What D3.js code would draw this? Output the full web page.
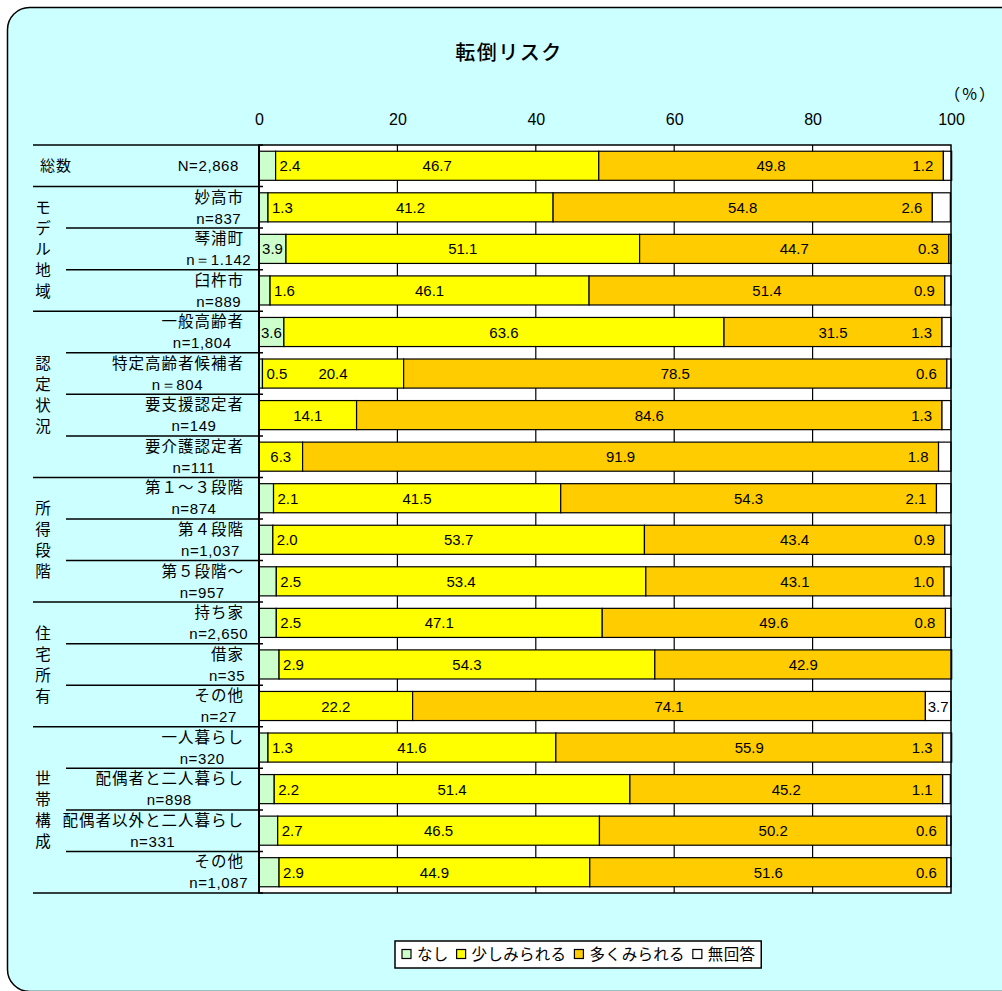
<!DOCTYPE html>
<html>
<head>
<meta charset="utf-8">
<script src="https://cdn.jsdelivr.net/npm/d3@7"></script>
<style>
  html, body { margin: 0; padding: 0; background: #ffffff; }
  svg { display: block; }
</style>
</head>
<body>
<div id="chart"></div>
<script>
// ---------- data ----------
const title = "転倒リスク";
const unitLabel = "（%）";
const categories = ["総数","妙高市","琴浦町","臼杵市","一般高齢者","特定高齢者候補者","要支援認定者","要介護認定者","第１～３段階","第４段階","第５段階～","持ち家","借家","その他","一人暮らし","配偶者と二人暮らし","配偶者以外と二人暮らし","その他"];
const sampleSizes = ["N=2,868","n=837","n＝1.142","n=889","n=1,804","n＝804","n=149","n=111","n=874","n=1,037","n=957","n=2,650","n=35","n=27","n=320","n=898","n=331","n=1,087"];
const groupNames = ["モデル地域","認定状況","所得段階","住宅所有","世帯構成"];
const groupStart = [1,4,8,11,14];
const groupEnd = [3,7,10,13,17];
const seriesNames = ["なし","少しみられる","多くみられる","無回答"];
const seriesColors = ["#CCFFCC","#FFFF00","#FFCC00","#FFFFFF"];
const nashi    = [2.4,1.3,3.9,1.6,3.6,0.5,0,0,2.1,2.0,2.5,2.5,2.9,0,1.3,2.2,2.7,2.9];
const sukoshi  = [46.7,41.2,51.1,46.1,63.6,20.4,14.1,6.3,41.5,53.7,53.4,47.1,54.3,22.2,41.6,51.4,46.5,44.9];
const ooku     = [49.8,54.8,44.7,51.4,31.5,78.5,84.6,91.9,54.3,43.4,43.1,49.6,42.9,74.1,55.9,45.2,50.2,51.6];
const mukaitou = [1.2,2.6,0.3,0.9,1.3,0.6,1.3,1.8,2.1,0.9,1.0,0.8,0,3.7,1.3,1.1,0.6,0.6];
const tickValues = [0,20,40,60,80,100];

// ---------- setup ----------
const W = 1002, H = 991;
const JP = "'Noto Sans CJK JP','Noto Sans',sans-serif";
const NUM = "'Liberation Sans',Arial,sans-serif";

const svg = d3.select("#chart").append("svg").attr("width", W).attr("height", H);

// background panel
svg.append("rect").attr("x", 7.5).attr("y", 7.5).attr("width", 1030).attr("height", 984)
  .attr("rx", 22).attr("fill", "#CCFFFF").attr("stroke", "#000").attr("stroke-width", 1.5);

// title
svg.append("text").attr("x", 509).attr("y", 60).attr("text-anchor", "middle")
  .style("font-family", JP).style("font-size", "20px").style("letter-spacing", "1.5px")
  .style("font-weight", 500).text(title);

const unitT = svg.append("text").attr("x", 973).attr("y", 100).attr("text-anchor", "middle")
  .style("font-family", JP).style("font-size", "16px").style("letter-spacing", "2px").text(unitLabel);
{
  const bb = unitT.node().getBBox();
  if (bb.x + bb.width > 997) unitT.attr("x", 973 - (bb.x + bb.width - 997));
}

const plotL = 259, plotR = 951, plotT = 145, plotB = 893;
const x = d3.scaleLinear().domain([0, 100]).range([plotL, plotR]);
const y = d3.scaleBand().domain(d3.range(categories.length)).range([plotT, plotB])
  .paddingInner(0.3).paddingOuter(0.15);
const step = y.step();
const rowTop = i => y(i) - y.paddingOuter() * step;

// plot background
svg.append("rect").attr("x", plotL).attr("y", plotT).attr("width", plotR - plotL).attr("height", plotB - plotT)
  .attr("fill", "#fff");

// gridlines
svg.append("g").selectAll("line").data(tickValues.filter(v => v > 0 && v < 100)).join("line")
  .attr("x1", d => x(d)).attr("x2", d => x(d)).attr("y1", plotT).attr("y2", plotB)
  .attr("stroke", "#000").attr("stroke-width", 1.2);

// axis
const axis = svg.append("g").attr("transform", `translate(0,${plotT})`)
  .call(d3.axisTop(x).tickValues(tickValues).tickSize(0).tickPadding(20).tickFormat(d3.format("d")));
axis.select(".domain").remove();
axis.selectAll("text").style("font-family", NUM).style("font-size", "16px").attr("fill", "#000");

// stacked data
const table = categories.map((c, i) => ({ idx: i, s0: nashi[i], s1: sukoshi[i], s2: ooku[i], s3: mukaitou[i] }));
const keys = ["s0", "s1", "s2", "s3"];
const stacked = d3.stack().keys(keys)(table);

const barsG = svg.append("g");
stacked.forEach((layer, k) => {
  barsG.append("g").selectAll("rect").data(layer.filter(d => d[1] - d[0] > 0)).join("rect")
    .attr("x", d => x(d[0])).attr("width", d => x(d[1]) - x(d[0]))
    .attr("y", d => y(d.data.idx)).attr("height", y.bandwidth())
    .attr("fill", seriesColors[k]).attr("stroke", "#000").attr("stroke-width", 1.2);
});

// value labels
const labG = svg.append("g").style("font-family", NUM).style("font-size", "15px");
stacked.forEach((layer, k) => {
  layer.forEach(d => {
    const v = d[1] - d[0];
    if (v <= 0) return;
    const t = labG.append("text").attr("y", y(d.data.idx) + y.bandwidth() / 2 + 5.5).text(v.toFixed(1));
    const tw = t.node().getComputedTextLength();
    const segW = x(d[1]) - x(d[0]);
    if (tw + 3 <= segW) {
      t.attr("x", (x(d[0]) + x(d[1])) / 2).attr("text-anchor", "middle");
    } else if (k === 0) {
      t.attr("x", x(d[1]) + 4).attr("text-anchor", "start");
    } else {
      t.attr("x", x(d[0]) - 10).attr("text-anchor", "end");
    }
  });
});

// plot border
svg.append("rect").attr("x", plotL).attr("y", plotT).attr("width", plotR - plotL).attr("height", plotB - plotT)
  .attr("fill", "none").attr("stroke", "#000").attr("stroke-width", 1.5);
svg.append("line").attr("x1", plotL).attr("x2", plotL).attr("y1", plotT).attr("y2", plotB)
  .attr("stroke", "#000").attr("stroke-width", 2);

// left table lines
const tableL = 33, subL = 66, lineR = 263;
const boundaries = d3.range(categories.length + 1);
const groupBoundaries = new Set([0, 1, ...groupEnd.map(e => e + 1)]);
svg.append("g").selectAll("line").data(boundaries).join("line")
  .attr("x1", d => groupBoundaries.has(d) ? tableL : subL).attr("x2", lineR)
  .attr("y1", d => plotT + d * step).attr("y2", d => plotT + d * step)
  .attr("stroke", "#000").attr("stroke-width", 1.5);

// row labels
const nameRight = 243;
const rowG = svg.append("g");
categories.forEach((c, i) => {
  const top = rowTop(i);
  if (i === 0) {
    rowG.append("text").attr("x", 40).attr("y", top + step / 2 + 5)
      .style("font-family", JP).style("font-size", "15px").style("letter-spacing", "1px").text(c);
    rowG.append("text").attr("x", 239).attr("y", top + step / 2 + 5).attr("text-anchor", "end")
      .style("font-family", NUM).style("font-size", "15px").style("letter-spacing", "0.6px").text(sampleSizes[i]);
    return;
  }
  const nameT = rowG.append("text").attr("x", nameRight + 1).attr("y", top + 16).attr("text-anchor", "end")
    .style("font-family", JP).style("font-size", "15.5px").style("letter-spacing", "1px").text(c);
  const nw = nameT.node().getComputedTextLength() - 1;
  const cx = nameRight - nw / 2;
  rowG.append("text").attr("x", cx).attr("y", top + 37).attr("text-anchor", "middle")
    .style("font-family", NUM).style("font-size", "15px").style("letter-spacing", "0.6px").text(sampleSizes[i]);
});

// group labels (vertical)
groupNames.forEach((g, gi) => {
  const yTop = rowTop(groupStart[gi]);
  const yBot = rowTop(groupEnd[gi]) + step;
  const cy = (yTop + yBot) / 2;
  const chars = Array.from(g);
  const sp = 21;
  chars.forEach((ch, j) => {
    svg.append("text").attr("x", 43).attr("y", cy + (j - (chars.length - 1) / 2) * sp + 6)
      .attr("text-anchor", "middle").style("font-family", JP).style("font-size", "15.5px").text(ch);
  });
});

// legend
const lg = svg.append("g");
const legBox = lg.append("rect").attr("x", 395).attr("y", 941).attr("width", 365).attr("height", 27)
  .attr("fill", "#fff").attr("stroke", "#000").attr("stroke-width", 1.5);
let lx = 402;
seriesNames.forEach((n, k) => {
  lg.append("rect").attr("x", lx).attr("y", 949.5).attr("width", 9).attr("height", 9)
    .attr("fill", seriesColors[k]).attr("stroke", "#000").attr("stroke-width", 1.2);
  const t = lg.append("text").attr("x", lx + 15).attr("y", 960)
    .style("font-family", JP).style("font-size", "15.5px").style("letter-spacing", "0.3px").text(n);
  lx += 15 + t.node().getComputedTextLength() + 8;
});
legBox.attr("width", lx - 395 - 2);
</script>
</body>
</html>
